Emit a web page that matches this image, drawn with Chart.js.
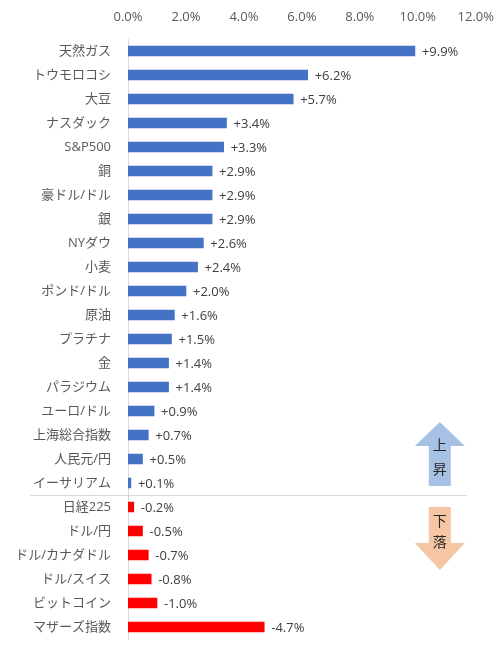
<!DOCTYPE html>
<html>
<head>
<meta charset="utf-8">
<script src="https://cdn.jsdelivr.net/npm/chart.js@4"></script>
<style>
  html, body { margin: 0; padding: 0; background: #fff; }
  #wrap { width: 500px; height: 651px; }
</style>
</head>
<body>
<div id="wrap"><canvas id="myChart"></canvas></div>
<script>
// categories and weekly changes (%)
var labels = ['天然ガス', 'トウモロコシ', '大豆', 'ナスダック', 'S&P500', '銅', '豪ドル/ドル', '銀',
  'NYダウ', '小麦', 'ポンド/ドル', '原油', 'プラチナ', '金', 'パラジウム', 'ユーロ/ドル', '上海総合指数',
  '人民元/円', 'イーサリアム', '日経225', 'ドル/円', 'ドル/カナダドル', 'ドル/スイス', 'ビットコイン', 'マザーズ指数'];
var changes = [9.9, 6.2, 5.7, 3.4, 3.3, 2.9, 2.9, 2.9, 2.6, 2.4, 2.0, 1.6, 1.5, 1.4, 1.4, 0.9, 0.7, 0.5, 0.1,
  -0.2, -0.5, -0.7, -0.8, -1.0, -4.7];
var xTicks = [0, 2, 4, 6, 8, 10, 12];

var FONT = '"Open Sans", "Noto Sans CJK JP", sans-serif';
var UP = '#4472C4', DOWN = '#FF0000';

// bars show size of move, colour shows direction
var lengths = changes.map(function (v) { return Math.abs(v); });
var colors = changes.map(function (v) { return v >= 0 ? UP : DOWN; });

function fmt(v) {
  return (v > 0 ? '+' : '') + v.toFixed(1) + '%';
}

var decor = {
  id: 'decor',
  afterDatasetsDraw: function (chart) {
    var ctx = chart.ctx;
    var xs = chart.scales.x, ys = chart.scales.y;
    var meta = chart.getDatasetMeta(0);

    // value labels at end of each bar
    ctx.save();
    ctx.font = '13px ' + FONT;
    ctx.fillStyle = '#404040';
    ctx.textBaseline = 'middle';
    ctx.textAlign = 'left';
    meta.data.forEach(function (bar, i) {
      ctx.fillText(fmt(changes[i]), bar.x + 7, bar.y + 1);
    });

    // separator between gainers and losers
    var lastUp = changes.filter(function (v) { return v >= 0; }).length - 1;
    var sep = (ys.getPixelForValue(lastUp) + ys.getPixelForValue(lastUp + 1)) / 2;
    ctx.strokeStyle = '#D9D9D9';
    ctx.lineWidth = 1;
    ctx.beginPath();
    ctx.moveTo(30, Math.round(sep) + 0.5);
    ctx.lineTo(xs.getPixelForValue(11.7), Math.round(sep) + 0.5);
    ctx.stroke();

    // up / down arrows
    var cx = xs.getPixelForValue(10.76);
    function arrow(tip, headBase, shaftEnd, fill) {
      ctx.fillStyle = fill;
      ctx.beginPath();
      ctx.moveTo(cx, tip);
      ctx.lineTo(cx + 25, headBase);
      ctx.lineTo(cx + 11, headBase);
      ctx.lineTo(cx + 11, shaftEnd);
      ctx.lineTo(cx - 11, shaftEnd);
      ctx.lineTo(cx - 11, headBase);
      ctx.lineTo(cx - 25, headBase);
      ctx.closePath();
      ctx.fill();
    }
    arrow(sep - 73, sep - 49, sep - 9, '#A7C1E5');
    arrow(sep + 75, sep + 48, sep + 12, '#F6C6A4');

    ctx.fillStyle = '#262626';
    ctx.font = '14px ' + FONT;
    ctx.textAlign = 'center';
    ctx.fillText('上', cx, sep - 49);
    ctx.fillText('昇', cx, sep - 25);
    ctx.fillText('下', cx, sep + 27);
    ctx.fillText('落', cx, sep + 48);
    ctx.restore();
  }
};

var ctx = document.getElementById('myChart').getContext('2d');
var chart = new Chart(ctx, {
  type: 'bar',
  data: {
    labels: labels,
    datasets: [{
      data: lengths,
      backgroundColor: colors,
      borderWidth: 0,
      barThickness: 10
    }]
  },
  options: {
    indexAxis: 'y',
    responsive: true,
    maintainAspectRatio: false,
    animation: false,
    layout: { padding: { top: 0, right: 23, bottom: 12, left: 0 } },
    plugins: {
      legend: { display: false },
      tooltip: { enabled: false }
    },
    scales: {
      x: {
        position: 'top',
        min: 0,
        max: 12,
        afterFit: function (s) { s.height = 39; },
        afterBuildTicks: function (s) {
          s.ticks = xTicks.map(function (v) { return { value: v }; });
        },
        grid: { display: false },
        border: { display: false },
        ticks: {
          color: '#595959',
          font: { family: FONT, size: 13 },
          padding: 6,
          maxRotation: 0,
          callback: function (v) { return Number(v).toFixed(1) + '%'; }
        }
      },
      y: {
        afterFit: function (s) {
          s.width = 128;
          s.paddingTop = 0;
          s.paddingBottom = 0;
        },
        grid: { display: false },
        border: { display: true, color: '#D9D9D9', width: 1 },
        ticks: {
          color: '#595959',
          font: { family: FONT, size: 13 },
          padding: 9,
          autoSkip: false
        }
      }
    }
  },
  plugins: [decor]
});
</script>
</body>
</html>
